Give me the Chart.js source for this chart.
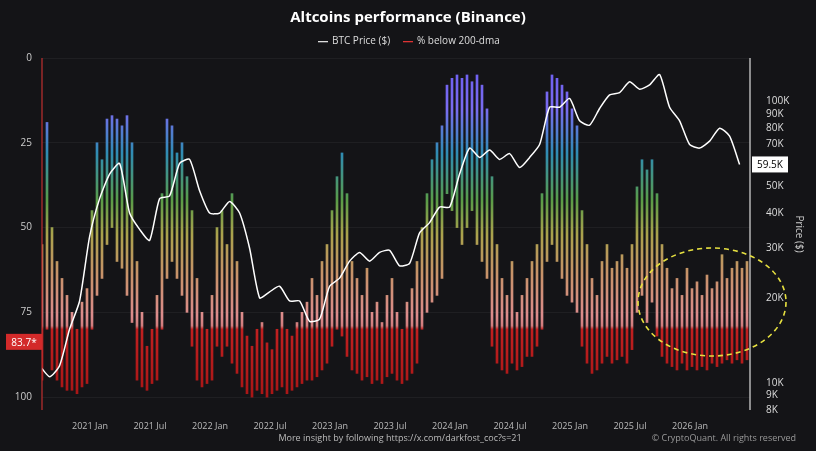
<!DOCTYPE html>
<html><head><meta charset="utf-8">
<script src="https://cdn.jsdelivr.net/npm/chart.js@4"></script>
<style>html,body{margin:0;background:#141417}#wrap{width:816px;height:451px}</style>
</head><body><div id="wrap"><canvas id="c"></canvas></div>
<script>
// semi-monthly bars starting Aug 2020 (i/24 years apart)
const barStart = 2020.6;
const pctTop = [55,19,50,60,65,70, 75,80,72,68, 45,25,30,18,17,18,20,17,25, 60,75,85,80,70,
  40,18,20,28,25,35,45, 65,75,80,70, 50,45,55,40,60, 75,82,85,80,78,84,86,80,75,80,82,78,
  75,72,65,70,60,55, 45,35,28,40, 60,65,70,62,75,72,78,70,65,75,80,72,68,60, 50,40,30,25,20,
  8,6,5,6,5,7,5,8,15, 35,55,65,70,60,75,70,65, 60,55,40, 10,5,6,8,10,15,20,
  45,55,65,70,60,55,62,60,58,62,55, 38,30,33,30,40,
  55,62,68,65,70,62,68,66,70,64,68,66,58,65,62,60,62,60];
const pctBottom = [95,80,92,95,97,98, 98,99,97,96, 80,70,65,55,50,60,62,70,78, 95,97,98,96,95,
  80,65,60,65,70,75,85, 95,97,96,95, 85,88,85,90,93, 97,99,100,98,99,100,99,98,97,99,98,97,
  96,95,95,94,92,90, 85,80,82,88, 92,93,95,94,96,95,96,94,93,95,96,95,93,90, 80,75,72,70,65,
  40,45,50,55,50,45,55,60,65, 85,90,92,93,90,92,91,88, 88,85,80, 60,55,60,65,70,72,75,
  85,90,93,92,90,88,90,89,88,90,86, 75,70,78,72,82,
  88,90,91,92,90,92,91,92,91,92,90,91,90,89,90,89,90,89];
// monthly BTC price from Aug 2020
const btcStart = 2020.58;
const btcPrice = [11500,10500,11500,15500,19500, 33000,45000,55000,60000,40000,35000,32000,45000,46000,60000,62000,48000,
  40000,40000,44000,40000,30000,20000,21000,22000,19500,19500,16500,16800,
  22000,23500,27000,29000,27000,29000,29500,26000,26500,34000,37000,42000,
  42000,55000,68000,63000,67000,62000,65000,58000,63000,70000,95000,95000,
  102000,85000,82000,94000,105000,107000,117000,110000,114000,124000,95000,85000,
  70000,68000,72000,80000,75000,59500];
const xTicks = [2021,2021.5,2022,2022.5,2023,2023.5,2024,2024.5,2025,2025.5,2026];
const priceTicks = [8000,9000,10000,20000,30000,40000,50000,60000,70000,80000,90000,100000];
const pctTicks = [0,25,50,75,100];

const bars = pctTop.map((v,i)=>({x: barStart + i/24, y: [v, pctBottom[i]]}));
const line = btcPrice.map((v,i)=>({x: btcStart + i/12, y: v}));

function grad(ctx){
  const c = ctx.chart, ys = c.scales.y;
  if(!c.chartArea || !ys) return '#888';
  const y0 = ys.getPixelForValue(0), y1 = ys.getPixelForValue(100);
  if(!isFinite(y0) || !isFinite(y1) || y0 === y1) return '#888';
  const g = c.ctx.createLinearGradient(0, y0, 0, y1);
  g.addColorStop(0.0,'#6a5cf0'); g.addColorStop(0.15,'#7a6cf0');
  g.addColorStop(0.28,'#2f8cb4'); g.addColorStop(0.42,'#5a9c48');
  g.addColorStop(0.52,'#aaa24c'); g.addColorStop(0.64,'#c8926a');
  g.addColorStop(0.76,'#dc8c8c'); g.addColorStop(0.79,'#d07c7c');
  g.addColorStop(0.80,'#c02020'); g.addColorStop(1.0,'#a81616');
  return g;
}

const deco = {
  id:'deco',
  afterDraw(c){
    const x = c.ctx;
    x.save();
    x.fillStyle='#fff'; x.textAlign='center'; x.font='bold 15px "Open Sans"';
    x.fillText('Altcoins performance (Binance)', 408, 22);
    x.font='10px "Open Sans"'; x.fillStyle='#ddd'; x.textAlign='left';
    x.fillRect(318,41,10,1.3); x.fillText('BTC Price ($)', 332, 44);
    x.fillStyle='#d33'; x.fillRect(403,41,10,1.3); x.fillStyle='#ddd'; x.fillText('% below 200-dma', 417, 44);
    // axes lines
    x.strokeStyle='#c03030'; x.lineWidth=1.2; x.beginPath(); x.moveTo(42,58); x.lineTo(42,410); x.stroke();
    x.strokeStyle='#ddd'; x.beginPath(); x.moveTo(750,58); x.lineTo(750,410); x.stroke();
    // value labels
    const yl = c.scales.y.getPixelForValue(83.7);
    x.fillStyle='#d32a2a'; x.fillRect(6, yl-8, 36, 16);
    x.fillStyle='#fff'; x.textAlign='center'; x.font='10px "Open Sans"'; x.fillText('83.7*', 24, yl+4);
    const yr = c.scales.y1.getPixelForValue(59500);
    x.fillStyle='#fff'; x.fillRect(752, yr-8, 36, 16);
    x.fillStyle='#000'; x.fillText('59.5K', 770, yr+4);
    // axis title
    x.save(); x.translate(796, 234); x.rotate(Math.PI/2); x.fillStyle='#ccc'; x.fillText('Price ($)', 0, 0); x.restore();
    // ellipse annotation
    x.strokeStyle='#e6e040'; x.lineWidth=1.6; x.setLineDash([5,4]);
    x.beginPath(); x.ellipse(712, 302, 74, 54, 0, 0, Math.PI*2); x.stroke(); x.setLineDash([]);
    // footer
    x.font='9px "Open Sans"'; x.fillStyle='#bbb'; x.textAlign='center';
    x.fillText('More insight by following https://x.com/darkfost_coc?s=21', 400, 441);
    x.textAlign='right'; x.fillStyle='#999'; x.fillText('© CryptoQuant. All rights reserved', 796, 441);
    x.restore();
  }
};

new Chart(document.getElementById('c'), {
  data: {
    datasets: [
      {type:'line', data: line, yAxisID:'y1', borderColor:'#fff', borderWidth:1.5, pointRadius:0, tension:0.2, order:0},
      {type:'bar', data: bars, yAxisID:'y', backgroundColor: grad, barThickness: 2, order:1}
    ]
  },
  options: {
    responsive:true, maintainAspectRatio:false, animation:false,
    layout:{padding:{top:58, left:0, right:0, bottom:0}},
    plugins:{legend:{display:false}, tooltip:{enabled:false}},
    scales:{
      x:{type:'linear', min:2020.6, max:2026.5, offset:false,
        afterBuildTicks: s => { s.ticks = xTicks.map(v=>({value:v})); },
        afterFit: s => { s.height = 41; },
        ticks:{color:'#bbb', font:{size:9, family:'Open Sans'}, maxRotation:0,
          callback: v => Math.floor(v) + (v % 1 ? ' Jul' : ' Jan')},
        grid:{display:false, offset:false}, border:{display:false}},
      y:{position:'left', reverse:true, min:0, max:103.8,
        afterBuildTicks: s => { s.ticks = pctTicks.map(v=>({value:v})); },
        afterFit: s => { s.width = 42; },
        ticks:{color:'#ccc', font:{size:10, family:'Open Sans'}, padding:10},
        grid:{color:'rgba(255,255,255,0.05)', drawTicks:false}, border:{display:false}},
      y1:{type:'logarithmic', position:'right', min:8000, max:142000,
        afterBuildTicks: s => { s.ticks = priceTicks.map(v=>({value:v})); },
        afterFit: s => { s.width = 66; },
        ticks:{color:'#ddd', font:{size:10, family:'Open Sans'}, padding:8, callback: v => (v/1000)+'K'},
        grid:{display:false}, border:{display:false}}
    }
  },
  plugins:[deco]
});
</script></body></html>
